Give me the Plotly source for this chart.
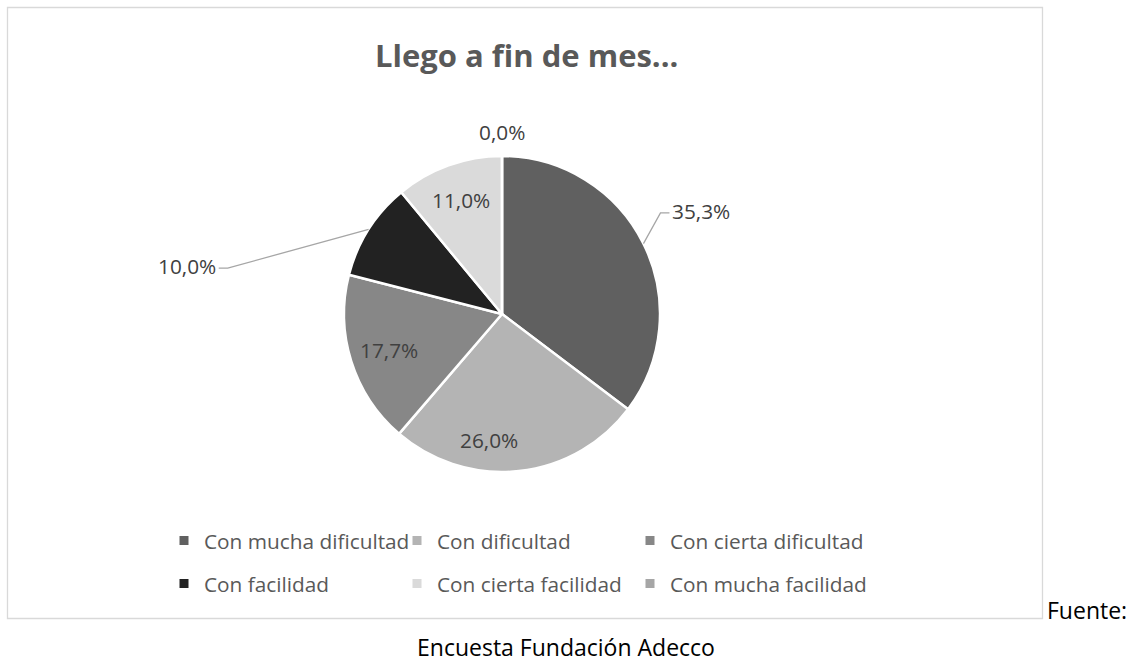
import math
import plotly.graph_objects as go

# ---- data ----
labels = ["Con mucha dificultad", "Con dificultad", "Con cierta dificultad",
          "Con facilidad", "Con cierta facilidad", "Con mucha facilidad"]
values = [35.3, 26.0, 17.7, 10.0, 11.0, 0.0]
colors = ["#606060", "#b4b4b4", "#878787", "#222222", "#dadada", "#a6a6a6"]
title_text = "Llego a fin de mes..."
source_1 = "Fuente:"
source_2 = "Encuesta Fundación Adecco"

# ---- style / layout ----
W, H = 1128, 662
CX, CY, R = 502, 314, 158
FONT = "Open Sans"
FS = 20.8
FS_SRC = 23
# per-slice label style: (mode, angle shift deg, radius factor, leader line)
label_style = [("out", -6.1, 1.19, True), ("in", 12.0, 0.80, False),
               ("in", 0.0, 0.75, False), ("out", -22.9, 1.76, True),
               ("in", 0.0, 0.77, False), ("out", 0.0, 1.15, False)]
# legend entry positions (text left x, row center y) in px
legend_pos = [(204, 541), (437, 541), (670, 541),
              (204, 584), (437, 584), (670, 584)]


def px(x):
    return x / W


def py(y):
    return 1 - y / H


fig = go.Figure()
fig.add_trace(go.Pie(
    labels=labels, values=values, sort=False, direction="clockwise",
    rotation=0, textinfo="none", hoverinfo="label+percent",
    marker=dict(colors=colors, line=dict(color="white", width=2.5)),
    domain=dict(x=[px(CX - R), px(CX + R)], y=[py(CY + R), py(CY - R)]),
    showlegend=False,
))

# dummy traces for legend entries
for i, (lab, col) in enumerate(zip(labels, colors)):
    lg = "legend" if i == 0 else f"legend{i + 1}"
    fig.add_trace(go.Scatter(x=[None], y=[None], mode="markers", name=lab,
                             marker=dict(symbol="square", size=9, color=col),
                             legend=lg, showlegend=True, hoverinfo="skip"))

legends = {}
for i, (tx, ty) in enumerate(legend_pos):
    lg = "legend" if i == 0 else f"legend{i + 1}"
    legends[lg] = dict(x=px(tx - 40), y=py(ty), xanchor="left", yanchor="middle",
                       bgcolor="rgba(0,0,0,0)", borderwidth=0,
                       font=dict(family=FONT, size=FS, color="#595959"))

annotations = []
shapes = []
total = sum(values)
cum = 0.0
for v, (mode, shift, k, line) in zip(values, label_style):
    mid = (cum + v / 2) / total
    cum += v
    th = 2 * math.pi * mid
    txt = f"{v:.1f}".replace(".", ",") + "%"
    tha = th + math.radians(shift)
    lx = CX + k * R * math.sin(tha)
    ly = CY - k * R * math.cos(tha)
    if mode == "in" or not line:
        annotations.append(dict(x=px(lx), y=py(ly), xref="paper", yref="paper",
                                text=txt, showarrow=False, xanchor="center",
                                yanchor="middle",
                                font=dict(family=FONT, size=FS, color="#404040")))
    else:
        ex = CX + R * math.sin(th)
        ey = CY - R * math.cos(th)
        side = 1 if lx > CX else -1
        hx = lx + side * 9
        shapes.append(dict(type="path", xref="paper", yref="paper",
                           path=f"M {px(ex)},{py(ey)} L {px(lx)},{py(ly)} L {px(hx)},{py(ly)}",
                           line=dict(color="#a6a6a6", width=1.3)))
        annotations.append(dict(x=px(hx + side * 1), y=py(ly - 2), xref="paper", yref="paper",
                                text=txt, showarrow=False,
                                xanchor="left" if side > 0 else "right",
                                yanchor="middle",
                                font=dict(family=FONT, size=FS, color="#404040")))

annotations.append(dict(x=px(526), y=py(55), xref="paper", yref="paper",
                        text=f"<b>{title_text}</b>", showarrow=False,
                        xanchor="center", yanchor="middle",
                        font=dict(family=FONT, size=31, color="#595959")))
annotations.append(dict(x=px(1045), y=py(610), xref="paper", yref="paper",
                        text=source_1, showarrow=False, xanchor="left", yanchor="middle",
                        font=dict(family=FONT, size=FS_SRC, color="#000000")))
annotations.append(dict(x=px(566), y=py(647), xref="paper", yref="paper",
                        text=source_2, showarrow=False, xanchor="center", yanchor="middle",
                        font=dict(family=FONT, size=FS_SRC, color="#000000")))

shapes.append(dict(type="rect", xref="paper", yref="paper",
                   x0=px(7.5), x1=px(1042.5), y0=py(618.5), y1=py(7.5),
                   line=dict(color="#d9d9d9", width=1.3)))

fig.update_layout(
    width=W, height=H, margin=dict(l=0, r=0, t=0, b=0),
    paper_bgcolor="white", plot_bgcolor="white",
    xaxis=dict(visible=False), yaxis=dict(visible=False),
    annotations=annotations, shapes=shapes,
    **legends,
)

fig.write_html("out.html", config={"displayModeBar": False},
               post_script="document.body.style.margin='0';document.body.style.overflow='hidden';")
